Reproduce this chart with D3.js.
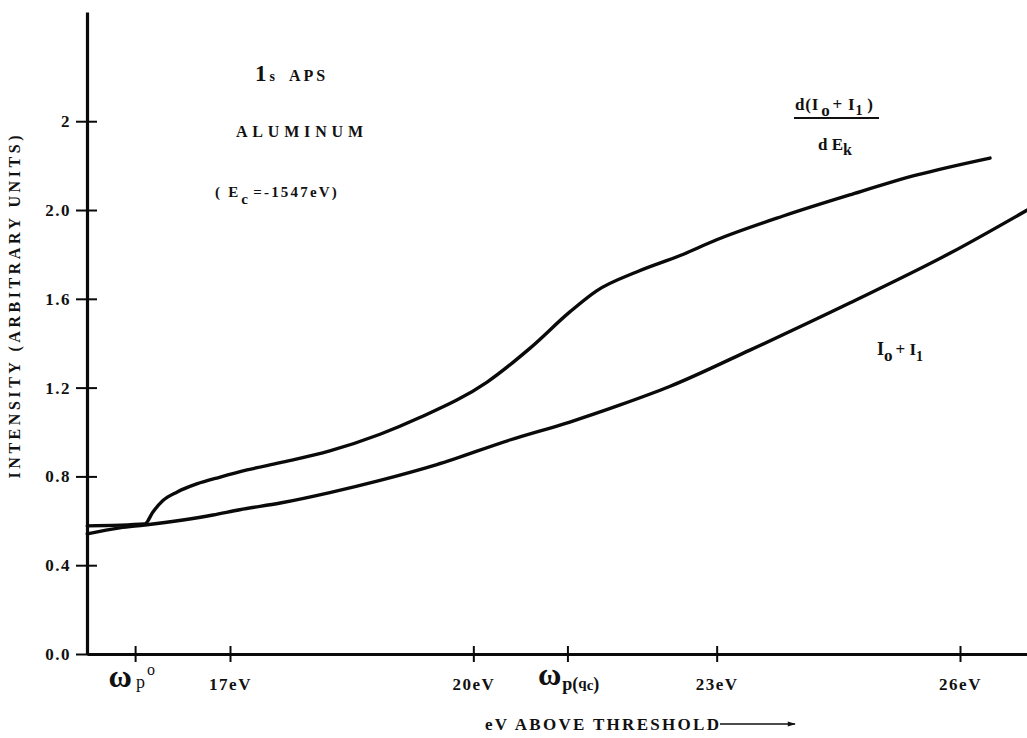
<!DOCTYPE html>
<html>
<head>
<meta charset="utf-8">
<script src="https://cdn.jsdelivr.net/npm/d3@7"></script>
<style>
  html, body { margin: 0; padding: 0; background: #fff; }
  svg { display: block; }
  text { font-family: "Liberation Serif", "DejaVu Serif", serif; fill: #111; font-weight: bold; }
</style>
</head>
<body>
<svg id="chart" width="1027" height="738"></svg>
<script>
// ---- data ----
const yTickValues = [0, 0.4, 0.8, 1.2, 1.6, 2.0, 2.4];
const yTickLabels = ["0.0", "0.4", "0.8", "1.2", "1.6", "2.0", "2"];

const xTickValues = [15.83, 17, 20, 21.16, 23, 26];
const xTickLabels = ["ωp0", "17eV", "20eV", "ωpqc", "23eV", "26eV"];

// d(I0+I1)/dEk curve
const derivX = [15.24, 15.95, 16.05, 16.17, 16.35, 16.59, 16.88, 17.21, 17.62, 18.23, 18.85, 19.34, 20.17, 20.70, 21.19, 21.52, 22.02, 22.55, 23.00, 23.82, 24.64, 25.47, 26.37];
const derivY = [0.577, 0.586, 0.640, 0.690, 0.730, 0.766, 0.797, 0.829, 0.862, 0.915, 0.990, 1.065, 1.225, 1.378, 1.541, 1.636, 1.722, 1.795, 1.866, 1.973, 2.068, 2.158, 2.234];

// I0+I1 curve
const sumX = [15.24, 15.64, 15.95, 16.79, 17.12, 17.62, 18.23, 18.85, 19.55, 20.45, 21.19, 21.81, 22.42, 23.41, 24.64, 25.88, 26.83];
const sumY = [0.541, 0.568, 0.581, 0.626, 0.650, 0.680, 0.727, 0.782, 0.853, 0.964, 1.045, 1.122, 1.205, 1.369, 1.581, 1.806, 2.000];

const xDomain = [15.237, 26.826];
const yDomain = [0, 2.892];

// ---- drawing ----
const svg = d3.select("#chart");
const x = d3.scaleLinear().domain(xDomain).range([87, 1027]);
const y = d3.scaleLinear().domain(yDomain).range([654, 12]);

// curves
const line = d3.line().x(d => x(d[0])).y(d => y(d[1])).curve(d3.curveMonotoneX);
svg.append("path")
  .datum(derivX.map((v, i) => [v, derivY[i]]))
  .attr("d", line).attr("fill", "none").attr("stroke", "#0a0a0a")
  .attr("stroke-width", 3.4).attr("stroke-linecap", "round");
svg.append("path")
  .datum(sumX.map((v, i) => [v, sumY[i]]))
  .attr("d", line).attr("fill", "none").attr("stroke", "#0a0a0a")
  .attr("stroke-width", 3.4).attr("stroke-linecap", "round");

// Y axis
const yAxis = svg.append("g").attr("transform", "translate(87,0)")
  .call(d3.axisLeft(y).tickValues(yTickValues)
    .tickFormat((d, i) => yTickLabels[i]).tickSizeInner(11).tickSizeOuter(0).tickPadding(5));
yAxis.select(".domain").attr("stroke", "#0a0a0a").attr("stroke-width", 3.2);
yAxis.selectAll(".tick line").attr("x1", 10).attr("stroke", "#0a0a0a").attr("stroke-width", 2);
yAxis.selectAll(".tick text")
  .attr("font-family", "'Liberation Serif', serif").attr("font-size", 17)
  .attr("font-weight", "bold").attr("letter-spacing", 1.5).attr("fill", "#111");

// X axis
const xAxis = svg.append("g").attr("transform", "translate(0,654)")
  .call(d3.axisBottom(x).tickValues(xTickValues).tickFormat("").tickSizeInner(8).tickSizeOuter(0));
xAxis.select(".domain").attr("stroke", "#0a0a0a").attr("stroke-width", 3.2);
xAxis.selectAll(".tick line").attr("y1", -8).attr("stroke", "#0a0a0a").attr("stroke-width", 2);

xAxis.selectAll(".tick").each(function (d, i) {
  const g = d3.select(this);
  const lab = xTickLabels[i];
  if (lab === "ωp0") {
    const t = g.append("text").attr("x", -27).attr("y", 33).attr("text-anchor", "start");
    t.append("tspan").attr("font-size", 32).text("ω");
    t.append("tspan").attr("font-size", 18).attr("font-weight", "normal").attr("dx", 4).attr("dy", 1).text("p");
    t.append("tspan").attr("font-size", 16).attr("font-weight", "normal").attr("dx", 2).attr("dy", -13).text("o");
  } else if (lab === "ωpqc") {
    const t = g.append("text").attr("x", -30).attr("y", 31).attr("text-anchor", "start");
    t.append("tspan").attr("font-size", 32).text("ω");
    t.append("tspan").attr("font-size", 18).attr("dx", 1).attr("dy", 5).text("p(");
    t.append("tspan").attr("font-size", 15).attr("dy", -2).text("q");
    t.append("tspan").attr("font-size", 15).attr("dy", 2).text("c");
    t.append("tspan").attr("font-size", 18).text(")");
  } else {
    g.append("text").attr("x", 0).attr("y", 36).attr("text-anchor", "middle")
      .attr("font-size", 17).attr("letter-spacing", 1.5)
      .text(lab);
  }
});

// Axis titles
svg.append("text")
  .attr("transform", "translate(20,307) rotate(-90)")
  .attr("text-anchor", "middle").attr("font-size", 16)
  .attr("textLength", 343).attr("lengthAdjust", "spacing")
  .text("INTENSITY (ARBITRARY UNITS)");

svg.append("text").attr("x", 485).attr("y", 730)
  .attr("font-size", 17).attr("textLength", 234).attr("lengthAdjust", "spacing")
  .text("eV ABOVE THRESHOLD");
svg.append("defs").append("marker").attr("id", "arr")
  .attr("viewBox", "0 0 10 10").attr("refX", 9).attr("refY", 5)
  .attr("markerWidth", 7).attr("markerHeight", 5).attr("orient", "auto")
  .append("path").attr("d", "M0,2 L10,5 L0,8 Z").attr("fill", "#111");
svg.append("line").attr("x1", 720).attr("x2", 795).attr("y1", 724).attr("y2", 724)
  .attr("stroke", "#111").attr("stroke-width", 1.6).attr("marker-end", "url(#arr)");

// Annotations
const t1 = svg.append("text").attr("x", 255).attr("y", 81);
t1.append("tspan").attr("font-size", 23).text("1");
t1.append("tspan").attr("font-size", 14).attr("dx", 3).text("s");
t1.append("tspan").attr("font-size", 16).attr("dx", 14).attr("letter-spacing", 3).text("APS");

svg.append("text").attr("x", 236).attr("y", 137).attr("font-size", 16)
  .attr("textLength", 127).attr("lengthAdjust", "spacing").text("ALUMINUM");

const t3 = svg.append("text").attr("x", 215).attr("y", 197).attr("font-size", 15).attr("letter-spacing", 2.2);
t3.append("tspan").text("( E");
t3.append("tspan").attr("font-size", 15).attr("dy", 7).attr("dx", 1).text("c");
t3.append("tspan").attr("font-size", 15).attr("dy", -7).attr("dx", 3).text("=-1547eV)");

const f1 = svg.append("text").attr("x", 795).attr("y", 110).attr("font-size", 17).attr("letter-spacing", 0.8);
f1.append("tspan").text("d(I");
f1.append("tspan").attr("dy", 6).attr("dx", 2).text("o");
f1.append("tspan").attr("dy", -6).attr("dx", 2).text("+ I");
f1.append("tspan").attr("dy", 5).attr("font-size", 14).text("1");
f1.append("tspan").attr("dy", -5).attr("dx", 4).text(")");
svg.append("line").attr("x1", 794).attr("x2", 879).attr("y1", 118).attr("y2", 118)
  .attr("stroke", "#111").attr("stroke-width", 1.8);
const f2 = svg.append("text").attr("x", 818).attr("y", 150).attr("font-size", 17);
f2.append("tspan").text("d  E");
f2.append("tspan").attr("dy", 5).attr("font-size", 16).text("k");

const l2 = svg.append("text").attr("x", 877).attr("y", 355).attr("font-size", 18);
l2.append("tspan").text("I");
l2.append("tspan").attr("dy", 6).attr("font-size", 17).text("o");
l2.append("tspan").attr("dy", -6).attr("dx", 3).attr("font-size", 17).text("+ I");
l2.append("tspan").attr("dy", 6).attr("font-size", 14).text("1");
</script>
</body>
</html>
